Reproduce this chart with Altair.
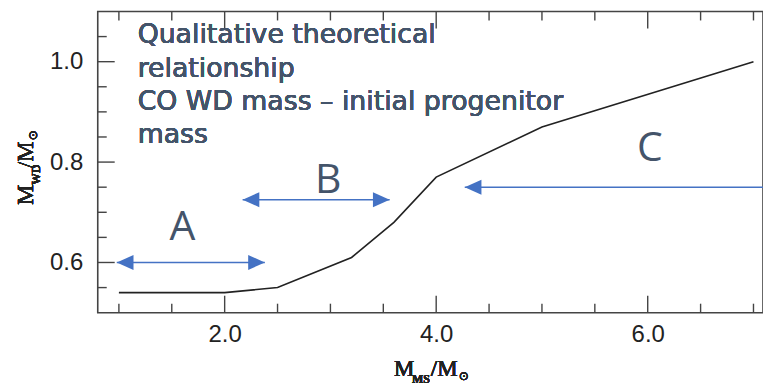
import altair as alt
import pandas as pd

# Initial-final mass relation (solid curve)
ms_mass = [1.0, 2.0, 2.5, 3.2, 3.6, 4.0, 5.0, 7.0]
wd_mass = [0.54, 0.54, 0.55, 0.61, 0.68, 0.77, 0.87, 1.0]

# Mass ranges A, B, C drawn as double / single arrows
range_names = ["A", "B", "C"]
range_start = [0.98, 2.17, 4.27]
range_end = [2.38, 3.56, 7.3]
range_level = [0.60, 0.725, 0.75]
range_has_right_head = [True, True, False]
range_label_x = [1.60, 2.98, 6.02]
range_label_y = [0.669, 0.762, 0.825]

# Axis ticks
x_major = [2.0, 4.0, 6.0]
x_minor = [1.0, 1.5, 2.5, 3.0, 3.5, 4.5, 5.0, 5.5, 6.5, 7.0]
y_major = [0.6, 0.8, 1.0]
y_minor = [0.55, 0.65, 0.7, 0.75, 0.85, 0.9, 0.95, 1.05]

note_lines = [
    "Qualitative theoretical",
    "relationship",
    "CO WD mass \u2013 initial progenitor",
    "mass",
]

W, H = 667, 302
X_DOM = [0.8, 7.09]
Y_DOM = [0.5, 1.1]
BLUE = "#4472C4"
SLATE = "#44546A"
INK = "#222222"
FRAME = "#444444"

xs = alt.Scale(domain=X_DOM, nice=False, zero=False)
ys = alt.Scale(domain=Y_DOM, nice=False, zero=False)
xa = alt.Axis(values=x_major, format=".1f", ticks=False, domain=False, grid=False,
              labelFont="Liberation Sans", labelFontSize=24, labelColor=INK,
              labelPadding=10, title=None)
ya = alt.Axis(values=y_major, format=".1f", ticks=False, domain=False, grid=False,
              labelFont="Liberation Sans", labelFontSize=24, labelColor=INK,
              labelPadding=15, title=None)

curve_df = pd.DataFrame({"x": ms_mass, "y": wd_mass})
ranges_df = pd.DataFrame({
    "name": range_names,
    "x": range_start,
    "x2": range_end,
    "y": range_level,
    "right": range_has_right_head,
    "lx": range_label_x,
    "ly": range_label_y,
})

curve = alt.Chart(curve_df).mark_line(color=INK, strokeWidth=1.6).encode(
    x=alt.X("x:Q", scale=xs, axis=xa),
    y=alt.Y("y:Q", scale=ys, axis=ya),
)

# Inward-pointing tick marks on bottom, top and left edges
def x_ticks(vals, length, top):
    df = pd.DataFrame({"x": vals})
    y0, y1 = (0, length) if top else (H, H - length)
    return alt.Chart(df).mark_rule(color=FRAME, strokeWidth=1.4).encode(
        x=alt.X("x:Q", scale=xs, axis=xa),
        y=alt.value(y0), y2=alt.value(y1))

def y_ticks(vals, length):
    df = pd.DataFrame({"y": vals})
    return alt.Chart(df).mark_rule(color=FRAME, strokeWidth=1.4).encode(
        y=alt.Y("y:Q", scale=ys, axis=ya),
        x=alt.value(0), x2=alt.value(length))

ticks = [
    x_ticks(x_major, 17, False), x_ticks(x_minor, 9, False),
    x_ticks(x_major, 17, True), x_ticks(x_minor, 9, True),
    y_ticks(y_major, 17), y_ticks(y_minor, 9),
]

base = alt.Chart(ranges_df)
shafts = base.mark_rule(color=BLUE, strokeWidth=1.5, clip=True).encode(
    x=alt.X("x:Q", scale=xs, axis=xa), x2="x2:Q",
    y=alt.Y("y:Q", scale=ys, axis=ya))

HEAD = "M-1,-0.9L1,0L-1,0.9Z"
HEAD_L = "M1,-0.9L-1,0L1,0.9Z"
HEAD_SIZE = 280
HALF = HEAD_SIZE ** 0.5 / 2
left_heads = base.mark_point(shape=HEAD_L, size=HEAD_SIZE, filled=True,
                             color=BLUE, opacity=1, xOffset=HALF).encode(
    x=alt.X("x:Q", scale=xs, axis=xa), y=alt.Y("y:Q", scale=ys, axis=ya))
right_heads = base.transform_filter("datum.right").mark_point(
    shape=HEAD, size=HEAD_SIZE, filled=True, color=BLUE, opacity=1,
    xOffset=-HALF).encode(
    x=alt.X("x2:Q", scale=xs, axis=xa), y=alt.Y("y:Q", scale=ys, axis=ya))

range_labels = base.mark_text(font="Open Sans", fontSize=41, color=SLATE,
                              align="center", baseline="middle").encode(
    x=alt.X("lx:Q", scale=xs, axis=xa), y=alt.Y("ly:Q", scale=ys, axis=ya),
    text="name:N")

note = alt.Chart(curve_df).mark_text(
    font="DejaVu Sans", fontSize=26.8, color=SLATE, align="left",
    baseline="alphabetic", lineHeight=33.3).encode(
    x=alt.value(40), y=alt.value(32), text=alt.value(note_lines))

# Axis titles with subscripts, assembled from pieces
SERIF = "Liberation Serif"
def piece(txt, x, y, size, bold=False, angle=0, font=SERIF):
    kw = dict(font=font, fontSize=size, color=INK, align="left",
              baseline="alphabetic", fontWeight="bold" if bold else "normal")
    if angle:
        kw["angle"] = angle
    return alt.Chart(curve_df).mark_text(**kw).encode(
        x=alt.value(x), y=alt.value(y), text=alt.value(txt))

titles = [
    piece("M", 297, 365, 23), piece("MS", 315, 372, 12, True),
    piece("/M", 334, 365, 23), piece("\u2299", 362, 369, 12, font="DejaVu Sans"),
    piece("M", -65, 194, 23, angle=270), piece("WD", -58, 174, 12, True, 270),
    piece("/M", -65, 157, 23, angle=270),
    piece("\u2299", -61, 129, 12, angle=270, font="DejaVu Sans"),
]

chart = alt.layer(
    curve, *ticks, shafts, left_heads, right_heads, range_labels, note, *titles
).properties(
    width=W, height=H,
    autosize=alt.AutoSizeParams(type="none"),
    padding={"left": 98, "top": 11, "right": 0, "bottom": 72},
    background="white",
).configure_view(stroke=FRAME, strokeWidth=1.6)

chart.save("out.html", embed_options={"renderer": "svg", "actions": False})
